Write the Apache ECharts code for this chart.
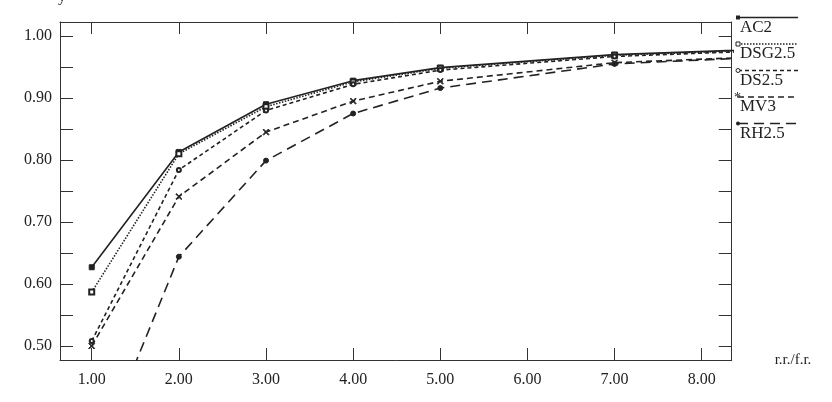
<!DOCTYPE html>
<html>
<head>
<meta charset="utf-8">
<script src="https://cdn.jsdelivr.net/npm/echarts@6/dist/echarts.min.js"></script>
<style>
  html, body { margin: 0; padding: 0; background: #fff; }
  #main { width: 832px; height: 402px; }
</style>
</head>
<body>
<div id="main"></div>
<script>
// ratio r.r./f.r. on the x axis
const ratios = [1, 2, 3, 4, 5, 7, 10];
const ac2 = [0.627, 0.813, 0.890, 0.928, 0.949, 0.970, 0.985];
const dsg25 = [0.587, 0.810, 0.886, 0.926, 0.948, 0.969, 0.984];
const ds25 = [0.508, 0.784, 0.880, 0.922, 0.945, 0.967, 0.983];
const mv3 = [0.500, 0.741, 0.845, 0.895, 0.927, 0.957, 0.974];
const rh25 = [0.300, 0.644, 0.799, 0.875, 0.916, 0.955, 0.974];

const xTicks = [1, 2, 3, 4, 5, 6, 7, 8];
const yLabels = [0.5, 0.6, 0.7, 0.8, 0.9, 1.0];
const yTicks = [0.5, 0.55, 0.6, 0.65, 0.7, 0.75, 0.8, 0.85, 0.9, 0.95, 1.0];

const FONT = 'Liberation Serif';
const INK = '#222';
const cross = 'path://M0,1L1,0L5,4L9,0L10,1L6,5L10,9L9,10L5,6L1,10L0,9L4,5Z';

const styles = [
  { name: 'AC2', data: ac2, dash: 'solid', symbol: 'rect', size: 5 },
  { name: 'DSG2.5', data: dsg25, dash: [1.5, 1.5], symbol: 'emptyRect', size: 5 },
  { name: 'DS2.5', data: ds25, dash: [4, 3], symbol: 'emptyCircle', size: 4 },
  { name: 'MV3', data: mv3, dash: [6, 4], symbol: cross, size: 6 },
  { name: 'RH2.5', data: rh25, dash: [10, 6], symbol: 'circle', size: 5 }
];

const myChart = echarts.init(document.getElementById('main'));

const baseX = {
  type: 'value', min: 0.636, max: 8.344,
  axisLine: { show: true, onZero: false, lineStyle: { color: '#333', width: 1 } },
  axisTick: { show: true, inside: true, length: 12, customValues: xTicks, lineStyle: { color: '#333' } },
  splitLine: { show: false }
};
const baseY = {
  type: 'value', min: 0.4774, max: 1.0226,
  axisLine: { show: true, onZero: false, lineStyle: { color: '#333', width: 1 } },
  axisTick: { show: true, inside: true, length: 13, customValues: yTicks, lineStyle: { color: '#333' } },
  splitLine: { show: false }
};

// legend drawn as line samples with the label underneath
const legendItems = [];
styles.forEach(function (s, i) {
  const y = 17.5 + i * 26.5;
  legendItems.push({
    type: 'line', shape: { x1: 738, y1: y, x2: 798, y2: y },
    style: { stroke: INK, lineWidth: 1.5, lineDash: s.dash === 'solid' ? null : s.dash }
  });
  legendItems.push({
    type: 'text', left: 740, top: y + 1.5,
    style: { text: s.name, font: '17px "' + FONT + '"', fill: INK }
  });
});
legendItems.push({ type: 'rect', shape: { x: 736, y: 15.5, width: 4, height: 4 }, style: { fill: INK } });
legendItems.push({ type: 'rect', shape: { x: 736, y: 42, width: 4, height: 4 }, style: { fill: '#fff', stroke: INK, lineWidth: 1 } });
legendItems.push({ type: 'circle', shape: { cx: 738, cy: 70.5, r: 2 }, style: { fill: '#fff', stroke: INK, lineWidth: 1 } });
legendItems.push({ type: 'text', left: 734, top: 91, style: { text: '*', font: '14px "' + FONT + '"', fill: INK } });
legendItems.push({ type: 'circle', shape: { cx: 738, cy: 123.5, r: 2 }, style: { fill: INK } });
legendItems.push({ type: 'text', left: 58, top: -11, style: { text: 'y', font: '16px "' + FONT + '"', fill: INK } });

myChart.setOption({
  animation: false,
  backgroundColor: '#fff',
  textStyle: { fontFamily: FONT, color: INK },
  grid: { left: 60, right: 100.3, top: 22, bottom: 42 },
  xAxis: [
    Object.assign({}, baseX, {
      position: 'bottom',
      name: 'r.r./f.r.', nameLocation: 'end', nameGap: 43,
      nameTextStyle: { fontFamily: FONT, fontSize: 15, color: INK, verticalAlign: 'middle', padding: [4, 0, 0, 0] },
      axisLabel: {
        customValues: xTicks, margin: 12, fontSize: 16, fontFamily: FONT, color: INK,
        formatter: function (v) { return v.toFixed(2); }
      }
    }),
    Object.assign({}, baseX, { position: 'top', axisLabel: { show: false } })
  ],
  yAxis: [
    Object.assign({}, baseY, {
      position: 'left',
      axisLabel: {
        customValues: yLabels, margin: 8, fontSize: 16, fontFamily: FONT, color: INK,
        formatter: function (v) { return v.toFixed(2); }
      }
    }),
    Object.assign({}, baseY, {
      position: 'right',
      axisTick: { show: true, inside: true, length: 13, customValues: yTicks, lineStyle: { color: '#333' } },
      axisLabel: { show: false }
    })
  ],
  series: styles.map(function (s) {
    return {
      name: s.name, type: 'line', clip: true,
      data: ratios.map(function (r, i) { return [r, s.data[i]]; }),
      symbol: s.symbol, symbolSize: s.size, showAllSymbol: true,
      lineStyle: { color: INK, width: 1.6, type: s.dash },
      itemStyle: { color: INK, borderColor: INK, borderWidth: 1 },
      emphasis: { disabled: true }
    };
  }),
  graphic: legendItems
});
window.onresize = myChart.resize;
</script>
</body>
</html>
